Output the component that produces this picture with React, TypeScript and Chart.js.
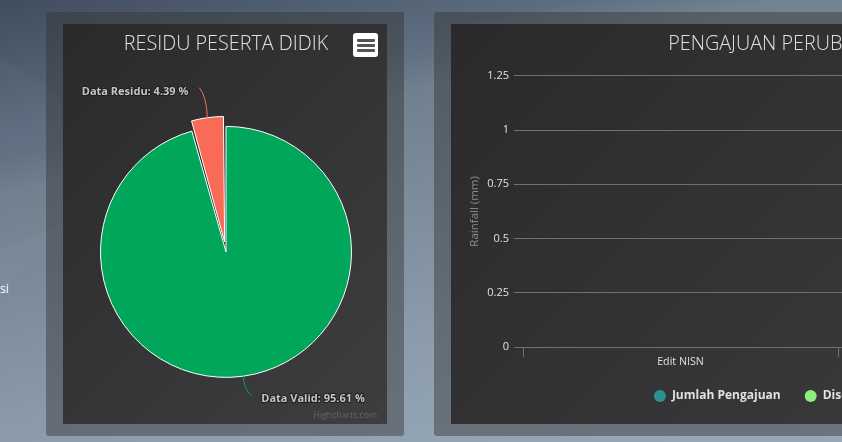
import React, { useEffect, useRef } from "react";
import { Chart, registerables } from "chart.js";
Chart.register(...registerables);

const pieLabels = ["Data Valid", "Data Residu"];
const pieValues = [95.61, 4.39];
const pieColors = ["#00a65a", "#f96b56"];

const barCategories = ["Edit NISN", "Edit Nama"];
const jumlahPengajuan = [0, 0];
const disetujui = [0, 0];
const ditolak = [0, 0];

const yTicksMax = 1.25;
const fontFamily = '"Open Sans", sans-serif';
const SLICE_OFFSET = 40; // chart.js divides this by 4

// chart.js also grows an offset arc, keep it the same radius as the other slice
const keepRadius = {
  id: "keepRadius",
  beforeDatasetsDraw(chart: any) {
    const arc = chart.getDatasetMeta(0).data[1];
    const fix = 1 - Math.sin(Math.min(Math.PI, arc.circumference));
    arc.outerRadius = chart.getDatasetMeta(0).data[0].outerRadius - (SLICE_OFFSET / 4) * fix;
  },
};

const pieLabelsPlugin = {
  id: "pieLabels",
  afterDatasetsDraw(chart: any) {
    const ctx = chart.ctx;
    const meta = chart.getDatasetMeta(0);
    const r = meta.data[0].outerRadius;
    const item = (i: number, dx: number, dy: number, out: number, align: CanvasTextAlign, gap: number, textDy: number) => {
      const arc = meta.data[i];
      const mid = (arc.startAngle + arc.endAngle) / 2;
      const sx = arc.x + Math.cos(mid) * (r + out);
      const sy = arc.y + Math.sin(mid) * (r + out);
      const ex = sx + dx;
      const ey = sy + dy;
      ctx.save();
      ctx.strokeStyle = pieColors[i];
      ctx.lineWidth = 1;
      ctx.beginPath();
      ctx.moveTo(sx, sy);
      ctx.quadraticCurveTo(sx + dx * 0.1, sy + dy * 0.7, ex, ey);
      ctx.stroke();
      const text = `${pieLabels[i]}: ${pieValues[i].toFixed(2)} %`;
      ctx.font = `bold 11px ${fontFamily}`;
      ctx.textAlign = align;
      ctx.textBaseline = "middle";
      ctx.lineJoin = "round";
      ctx.lineWidth = 2;
      ctx.strokeStyle = "#1f1f20";
      ctx.strokeText(text, ex + gap, ey + textDy);
      ctx.fillStyle = "#c6c6ca";
      ctx.fillText(text, ex + gap, ey + textDy);
      ctx.restore();
    };
    item(1, -8, -30, 10, "right", -11, 4);
    item(0, 8, 19, 0, "left", 10, 4);
    ctx.save();
    ctx.font = `8.7px ${fontFamily}`;
    ctx.textAlign = "right";
    ctx.fillStyle = "#666666";
    ctx.fillText("Highcharts.com", chart.width - 10, chart.height - 6);
    ctx.restore();
  },
};

const PieChart = () => {
  const ref = useRef<HTMLCanvasElement>(null);
  useEffect(() => {
    const chart = new Chart(ref.current!, {
      type: "pie",
      data: {
        labels: pieLabels,
        datasets: [
          {
            data: pieValues,
            backgroundColor: pieColors,
            borderColor: "#ffffff",
            borderWidth: 1,
            offset: [0, SLICE_OFFSET],
          },
        ],
      },
      options: {
        responsive: false,
        animation: false,
        radius: 125.5,
        layout: { padding: { left: 2 } },
        plugins: {
          legend: { display: false },
          tooltip: { enabled: false },
          title: {
            display: true,
            text: "RESIDU PESERTA DIDIK",
            color: "#e0e0e3",
            font: { family: fontFamily, size: 19.8, weight: 300 },
            padding: { top: 8, bottom: 24 },
          },
        },
      },
      plugins: [keepRadius, pieLabelsPlugin],
    } as any);
    return () => chart.destroy();
  }, []);
  return <canvas ref={ref} width={324} height={400} style={canvasStyle} />;
};

const BarChart = () => {
  const ref = useRef<HTMLCanvasElement>(null);
  useEffect(() => {
    const chart = new Chart(ref.current!, {
      type: "bar",
      data: {
        labels: barCategories,
        datasets: [
          { label: "Jumlah Pengajuan", data: jumlahPengajuan, backgroundColor: "#2b908f", borderColor: "#2b908f" },
          { label: "Disetujui", data: disetujui, backgroundColor: "#90ee7e", borderColor: "#90ee7e" },
          { label: "Ditolak", data: ditolak, backgroundColor: "#f45b5b", borderColor: "#f45b5b" },
        ],
      },
      options: {
        responsive: false,
        animation: false,
        layout: { padding: { right: 10, bottom: 12 } },
        scales: {
          x: {
            offset: true,
            grid: { offset: true, drawOnChartArea: false, color: "#707073", tickLength: 10 },
            border: { color: "#707073" },
            ticks: { color: "#e0e0e3", font: { family: fontFamily, size: 10.7 }, padding: -1, maxRotation: 0 },
            afterFit: (s: any) => {
              s.height = 19;
            },
          },
          y: {
            min: 0,
            max: yTicksMax,
            ticks: {
              stepSize: 0.25,
              color: "#e0e0e3",
              font: { family: fontFamily, size: 11 },
              padding: 5,
              callback: (v: any) => String(v),
            },
            grid: { color: "#707073", tickLength: 9 },
            border: { display: false },
            title: {
              display: true,
              text: "Rainfall (mm)",
              color: "#8a8a8e",
              font: { family: fontFamily, size: 11.5 },
              padding: { top: 17, bottom: 0 },
            },
            afterFit: (s: any) => {
              s.width = 72;
            },
          },
          // empty box on the right, only narrows the plot
          spacer: {
            position: "right",
            ticks: { display: false },
            grid: { display: false },
            border: { display: false },
            afterFit: (s: any) => {
              s.width = 12;
            },
          },
        },
        plugins: {
          tooltip: { enabled: false },
          title: {
            display: true,
            text: "PENGAJUAN PERUBAHAN DATA",
            color: "#e0e0e3",
            font: { family: fontFamily, size: 19.8, weight: 300 },
            padding: { top: 8, bottom: 20 },
          },
          legend: {
            position: "bottom",
            labels: {
              color: "#e0e0e3",
              usePointStyle: true,
              pointStyle: "circle",
              boxWidth: 12,
              boxHeight: 8.5,
              padding: 24,
              font: { family: fontFamily, size: 12, weight: "bold" },
            },
          },
        },
      },
    } as any);
    return () => chart.destroy();
  }, []);
  return <canvas ref={ref} width={724} height={400} style={canvasStyle} />;
};

const canvasStyle: React.CSSProperties = {
  display: "block",
  background: "linear-gradient(135deg, #2a2a2b, #3e3e40)",
};

const panel = (left: number, width: number): React.CSSProperties => ({
  position: "absolute",
  left,
  top: 12,
  width,
  height: 424,
  borderRadius: 3,
  background: "rgba(50,50,50,0.44)",
});

const wedge = (points: string): React.CSSProperties => ({
  position: "absolute",
  inset: 0,
  background: "rgba(255,255,255,0.025)",
  clipPath: `polygon(${points})`,
});

export default function App() {
  return (
    <div
      style={{
        position: "fixed",
        inset: 0,
        overflow: "hidden",
        fontFamily,
        background:
          "linear-gradient(166deg, #3f4d5e 0%, #5f6e80 23%, #70808f 30%, #8b9bab 67%, #92a3b3 83%, #98a8b8 100%)",
      }}
    >
      <div style={wedge("0 57px, 60px 95px, 60px 140px, 0 155px")} />
      <div style={wedge("0 250px, 60px 225px, 60px 235px, 0 290px")} />
      <div style={wedge("600px 0, 842px 0, 842px 30px, 430px 30px")} />
      <div style={{ position: "absolute", left: 0, top: 280, color: "#fff", fontSize: 12 }}>si</div>
      <div style={panel(46, 358)} />
      <div style={{ position: "absolute", left: 63, top: 24 }}>
        <PieChart />
      </div>
      <div
        style={{
          position: "absolute",
          left: 353,
          top: 33,
          width: 25,
          height: 24,
          background: "#fff",
          borderRadius: 3,
          display: "flex",
          flexDirection: "column",
          justifyContent: "center",
          gap: 2,
          alignItems: "center",
        }}
      >
        {[0, 1, 2].map((i) => (
          <div key={i} style={{ width: 18, height: 3, background: "#555", borderRadius: 1 }} />
        ))}
      </div>
      <div style={panel(434, 760)} />
      <div style={{ position: "absolute", left: 451, top: 24 }}>
        <BarChart />
      </div>
    </div>
  );
}
